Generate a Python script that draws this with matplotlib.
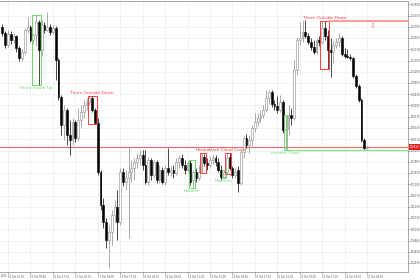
import matplotlib.pyplot as plt
from matplotlib.patches import Rectangle
from matplotlib.transforms import blended_transform_factory

# hourly candles (open, high, low, close)
opens = [112970, 112750, 112290, 112710, 112480, 112630, 112180, 111800, 112020, 112860,
         112970, 112480, 112670, 113160, 112100, 113050, 112860, 112970, 112780, 112940,
         111720, 110310, 109250, 109820, 108870, 108680, 109360, 108760, 109440, 109740,
         110010, 110120, 110280, 109820, 109330, 107460, 106210, 105560, 104880, 105180,
         105830, 106130, 105560, 107460, 107080, 107240, 107460, 107620, 107840, 108000,
         108110, 107730, 107080, 107920, 107350, 107840, 107160, 107540, 107080, 107620,
         107460, 107540, 107430, 107840, 108000, 107730, 107540, 107810, 107160, 107460,
         107240, 107460, 108030, 107810, 107730, 107920, 108000, 107840, 107540, 107270,
         107460, 108030, 107620, 107350, 107540, 107050, 108220, 108760, 108490, 108680,
         109140, 109360, 109520, 109630, 109820, 110280, 110500, 110050, 109970, 109820,
         110120, 109060, 109100, 109630, 109520, 111340, 112480, 112560, 112780, 112630,
         112400, 112210, 112020, 112480, 112400, 112940, 112630, 112100, 112020, 112290,
         112400, 112560, 111950, 111870, 111830, 111800, 111110, 110730, 110200, 108680,
         108380]
highs = [113090, 112820, 112860, 112820, 112750, 112670, 112250, 112140, 112940, 113350,
         113050, 112750, 113430, 113240, 113240, 113160, 113540, 113090, 113050, 113010,
         111800, 110390, 110010, 109900, 109440, 109520, 109440, 109900, 110010, 110200,
         110280, 110350, 110350, 109900, 109520, 107540, 106480, 105720, 105450, 106020,
         106400, 106780, 107620, 107620, 107540, 108410, 107920, 108000, 108190, 108300,
         108300, 108300, 108030, 108000, 107920, 107920, 107730, 107650, 107730, 108380,
         107690, 107730, 108000, 108110, 108150, 107920, 107880, 107920, 107540, 107620,
         107730, 108190, 108150, 108000, 108070, 108150, 108110, 108000, 107730, 107540,
         108190, 108190, 107690, 107620, 107690, 108300, 108830, 108910, 108870, 109250,
         109710, 109710, 109820, 110010, 110580, 110580, 110580, 110200, 110350, 110390,
         110200, 109630, 110010, 109900, 111720, 112590, 113160, 113240, 113240, 112750,
         112560, 112480, 112560, 112630, 113200, 113200, 112860, 112560, 112480, 112560,
         112750, 112630, 112180, 112140, 111950, 111830, 111190, 110810, 110280, 108760,
         108490]
lows = [112630, 112180, 112210, 112330, 112370, 112020, 111680, 111680, 111950, 112750,
        112400, 112330, 112250, 110770, 111870, 112750, 112820, 112670, 112710, 110960,
        110200, 108870, 108680, 108490, 108110, 108490, 108600, 108640, 109140, 109520,
        109820, 110010, 109740, 109290, 107350, 106020, 105340, 104580, 103820, 104690,
        105560, 104880, 105450, 106930, 106780, 104960, 107080, 107160, 107620, 107730,
        107540, 107010, 106970, 107160, 107240, 107050, 107050, 107010, 106970, 107350,
        107310, 107240, 107350, 107620, 107620, 107390, 107460, 106970, 106860, 107080,
        107160, 107430, 107690, 107540, 107620, 107770, 107690, 107460, 107160, 107240,
        107390, 107540, 107240, 107240, 106700, 106970, 108000, 108380, 108190, 108450,
        108980, 109210, 109360, 109520, 109740, 110050, 109930, 109820, 109710, 109740,
        108950, 108300, 108870, 109250, 109440, 111150, 112290, 112400, 112560, 112330,
        112100, 111950, 111950, 112250, 112330, 112480, 111380, 111070, 111610, 112180,
        112210, 111870, 111800, 111800, 111720, 111040, 110660, 110120, 108600, 108300,
        108340]
closes = [112750, 112290, 112710, 112480, 112630, 112180, 111800, 112020, 112860, 112970,
          112480, 112670, 113160, 112100, 113050, 112860, 112970, 112780, 112940, 111720,
          110310, 109250, 109820, 108870, 108680, 109360, 108760, 109440, 109740, 110010,
          110120, 110280, 109820, 109330, 107460, 106210, 105560, 104880, 105180, 105830,
          106130, 105560, 107460, 107080, 107240, 107460, 107620, 107840, 108000, 108110,
          107730, 107080, 107920, 107350, 107840, 107160, 107540, 107080, 107620, 107460,
          107540, 107430, 107840, 108000, 107730, 107540, 107810, 107080, 107460, 107240,
          107460, 108030, 107810, 107730, 107920, 108000, 107840, 107540, 107270, 107460,
          108000, 107620, 107350, 107460, 107050, 108220, 108760, 108490, 108680, 109140,
          109360, 109520, 109630, 109820, 110280, 110500, 110050, 109970, 109820, 110120,
          109060, 109100, 109630, 109520, 111340, 112480, 112560, 112780, 112630, 112400,
          112210, 112020, 112480, 112400, 112940, 112630, 112100, 112020, 112290, 112400,
          112560, 111950, 111870, 111830, 111800, 111110, 110730, 110200, 108680, 108380,
          108410]

# axis labels
time_labels = ["16 Oct 01:00", "16 Oct 09:00", "16 Oct 17:00", "17 Oct 01:00", "17 Oct 09:00",
               "17 Oct 17:00", "18 Oct 01:00", "18 Oct 09:00", "18 Oct 17:00", "19 Oct 01:00",
               "19 Oct 09:00", "19 Oct 17:00", "20 Oct 01:00", "20 Oct 09:00", "20 Oct 17:00",
               "21 Oct 01:00", "21 Oct 09:00"]
time_label_idx = [2, 10, 18, 26, 34, 42, 50, 58, 66, 74, 82, 90, 98, 106, 114, 122, 130]
first_date = "2025"
price_ticks = [113840, 113410, 112990, 112560, 112130, 111700, 111280, 110850, 110420, 110000,
               109570, 109140, 108710, 108280, 107860, 107430, 107000, 106570, 106150, 105720,
               105290, 104860, 104440, 104010]

# candlestick patterns found
pattern_names = ["Three Inside Up", "Three Outside Down", "Harami", "Harami",
                 "Dark Cloud Cover", "Hammer", "Harami Cross", "Three Outside Down"]
pattern_start = [11, 31, 67, 71, 80, 79, 101, 114]
pattern_end = [13, 33, 68, 72, 81, 79, 101, 116]
pattern_bull = [True, False, True, False, False, True, True, False]
pattern_extend = [False, False, False, False, False, False, True, True]

GREEN = "#6fd66f"
RED = "#ff3c3c"
LABEL_FS = 1.85

fig = plt.figure(figsize=(4.2, 2.8), dpi=100)
ax = fig.add_axes([0, 8 / 280, 408 / 420, 271 / 280])

n = len(closes)
for i in range(n):
    o, h, l, c = opens[i], highs[i], lows[i], closes[i]
    bull = c >= o
    col = "#8a8a8a" if bull else "black"
    ax.vlines(i, l, h, color=col, lw=0.5, zorder=2)
    ax.add_patch(Rectangle((i - 0.33, min(o, c)), 0.66, max(abs(c - o), 15),
                           facecolor="white" if bull else "black",
                           edgecolor=col, lw=0.4, zorder=3))

xmax = 144.6
for name, s, e, bull, ext in zip(pattern_names, pattern_start, pattern_end,
                                 pattern_bull, pattern_extend):
    top = max(highs[s:e + 1])
    bot = min(lows[s:e + 1])
    col = GREEN if bull else RED
    ax.add_patch(Rectangle((s - 0.6, bot), e - s + 1.2, top - bot, fill=False,
                           edgecolor=col, lw=0.7, zorder=4))
    xc = (s + e) / 2
    if bull:
        ax.annotate(name, (xc, bot), xytext=(0, -1), textcoords="offset points",
                    ha="center", va="top", fontsize=3.1, color=col, zorder=5)
        if ext:
            ax.hlines(bot, e + 0.6, xmax, color="#8fe08f", lw=1.0, zorder=4)
    else:
        ax.annotate(name, (xc, top), xytext=(0, 1), textcoords="offset points",
                    ha="center", va="bottom", fontsize=3.1, color=col, zorder=5)
        if ext:
            ax.hlines(top, e + 0.6, xmax, color="#ff9a9a", lw=1.4, zorder=4)
            ax.text(132, top - 60, "\u21e9", ha="center", va="top", fontsize=5,
                    color="#ff7070", zorder=5)

# current price line + label
last = closes[-1]
ax.axhline(last, color="#e46a6a", lw=0.8, zorder=1.5)
tr = blended_transform_factory(ax.transAxes, ax.transData)
ax.text(1.004, last, f"{last}", transform=tr, ha="left", va="center",
        fontsize=LABEL_FS, color="white", clip_on=False,
        bbox=dict(boxstyle="square,pad=0.25", facecolor="#e02020", edgecolor="none"))

ax.set_xlim(-0.85, xmax)
ax.set_ylim(103664, 113962)

ax.yaxis.tick_right()
ax.set_yticks(price_ticks)
ax.set_yticklabels([f"{p}" for p in price_ticks])
ax.set_xticks(time_label_idx)
ax.set_xticklabels(time_labels, ha="left")
ax.tick_params(axis="both", labelsize=LABEL_FS, length=1.2, width=0.4, pad=0.8,
               colors="#555555")
ax.text(0.002, -0.008, first_date, transform=ax.transAxes,
        ha="left", va="top", fontsize=LABEL_FS, color="#555555")

ax.grid(True, ls=":", lw=0.5, color="#d0d0d0", zorder=0)
ax.spines["left"].set_visible(False)
for sp in ["right", "bottom", "top"]:
    ax.spines[sp].set_color("#9a9a9a")
    ax.spines[sp].set_linewidth(0.6)

fig.savefig("out.png", dpi=100)
